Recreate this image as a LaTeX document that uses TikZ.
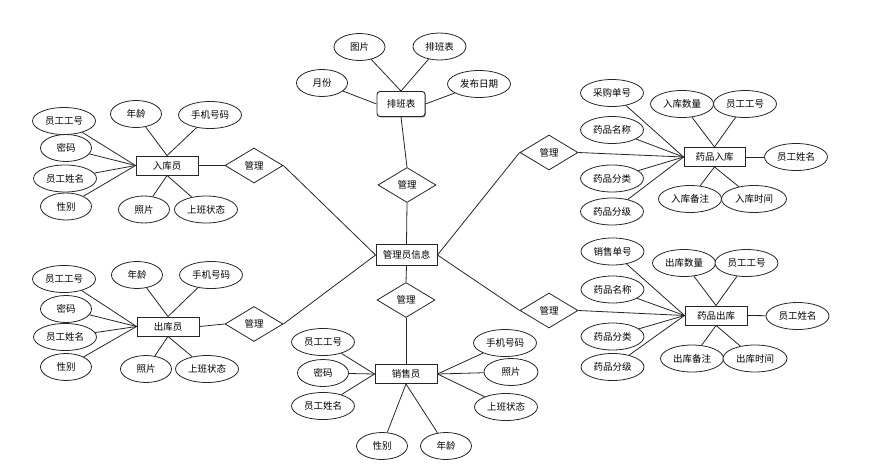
\documentclass[tikz,border=0pt]{standalone}
\usepackage{fontspec}
\newfontfamily\cjk{Noto Sans CJK SC}
\usetikzlibrary{shapes.geometric,shadows}
\begin{document}
\begin{tikzpicture}[x=1pt,y=-1pt,
  every node/.style={font=\cjk\fontsize{9.5}{10}\selectfont, inner sep=0pt, text=black},
  attrs/.style={ellipse, draw=black!85, line width=0.8pt, fill=white, minimum width=51, minimum height=27},
  attrl/.style={attrs, minimum width=63},
  ent/.style={rectangle, draw=black!85, line width=0.9pt, fill=white, minimum width=62, minimum height=19,
     drop shadow={shadow xshift=0.8pt, shadow yshift=-0.8pt, fill=black!55, opacity=1}},
  rel/.style={diamond, draw=black!85, line width=0.8pt, fill=white, minimum width=58, minimum height=35},
  conn/.style={draw=black!85, line width=0.8pt}]
\useasboundingbox (0,0) rectangle (886,471);

% central column
\node[ent, rounded corners=3pt, minimum width=48, minimum height=25] (pb) at (401,104) {排班表};
\node[attrs] (pb1) at (322,83) {月份};
\node[attrs] (pb2) at (359.5,47) {图片};
\node[attrs, minimum width=53] (pb3) at (439.5,46.5) {排班表};
\node[attrl] (pb4) at (479,84) {发布日期};
\node[rel] (r0) at (407,185) {管理};
\node[ent, minimum width=61, minimum height=21] (adm) at (406.5,255) {管理员信息};
\node[rel] (r5) at (406,300) {管理};
\node[ent] (xs) at (406,374) {销售员};

% left top
\node[ent] (rk) at (167,165.5) {入库员};
\node[attrl] (rk1) at (64,121) {员工工号};
\node[attrs] (rk2) at (66,148) {密码};
\node[attrl] (rk3) at (65,178.5) {员工姓名};
\node[attrs] (rk4) at (66,206.5) {性别};
\node[attrs] (rk5) at (136,114) {年龄};
\node[attrl] (rk6) at (210,115) {手机号码};
\node[attrs] (rk7) at (144,209.5) {照片};
\node[attrl] (rk8) at (206,209.5) {上班状态};
\node[rel] (r1) at (254,165.5) {管理};

% left bottom
\node[ent] (ck) at (168,326.5) {出库员};
\node[attrl] (ck1) at (64,279) {员工工号};
\node[attrs] (ck2) at (66,309) {密码};
\node[attrl] (ck3) at (65,337) {员工姓名};
\node[attrs] (ck4) at (66,367) {性别};
\node[attrs] (ck5) at (137,275) {年龄};
\node[attrl] (ck6) at (211,275) {手机号码};
\node[attrs] (ck7) at (146,369) {照片};
\node[attrl] (ck8) at (207,369) {上班状态};
\node[rel] (r2) at (254,324) {管理};

% bottom
\node[attrl] (xs1) at (323,342) {员工工号};
\node[attrs] (xs2) at (323,373) {密码};
\node[attrl] (xs3) at (323,406) {员工姓名};
\node[attrs] (xs4) at (382,446) {性别};
\node[attrs] (xs5) at (446,446) {年龄};
\node[attrl] (xs6) at (505,343) {手机号码};
\node[attrs, minimum width=54] (xs7) at (511,372) {照片};
\node[attrl] (xs8) at (506,407) {上班状态};

% right top
\node[ent, minimum width=61] (yr) at (714.5,157) {药品入库};
\node[attrl] (yr1) at (612,93) {采购单号};
\node[attrl] (yr2) at (612,130) {药品名称};
\node[attrl] (yr3) at (612,178.5) {药品分类};
\node[attrl] (yr4) at (612,211.5) {药品分级};
\node[attrl] (yr5) at (682,104) {入库数量};
\node[attrl] (yr6) at (745,104) {员工工号};
\node[attrl] (yr7) at (796,157) {员工姓名};
\node[attrl] (yr8) at (690,199) {入库备注};
\node[attrl, minimum width=65] (yr9) at (754,199) {入库时间};
\node[rel] (r3) at (549,152.5) {管理};

% right bottom
\node[ent] (yc) at (716,315.5) {药品出库};
\node[attrl] (yc1) at (612.5,251.5) {销售单号};
\node[attrl] (yc2) at (612.5,289.5) {药品名称};
\node[attrl] (yc3) at (612.5,336.5) {药品分类};
\node[attrl] (yc4) at (612.5,367) {药品分级};
\node[attrl] (yc5) at (684,263) {出库数量};
\node[attrl] (yc6) at (746.5,263) {员工工号};
\node[attrl] (yc7) at (797.5,316) {员工姓名};
\node[attrl] (yc8) at (692,358.5) {出库备注};
\node[attrl, minimum width=64] (yc9) at (755,358.5) {出库时间};
\node[rel] (r4) at (549,310.5) {管理};

% connectors
\draw[conn] (pb1) -- (pb.west);
\draw[conn] (pb2) -- (pb.north);
\draw[conn] (pb3) -- (pb.north);
\draw[conn] (pb4) -- (pb.east);
\draw[conn] (pb.south) -- (r0.north);
\draw[conn] (r0.south) -- (adm.north);
\draw[conn] (adm.south) -- (r5.north);
\draw[conn] (r5.south) -- (xs.north);

\foreach \a in {rk1,rk2,rk3,rk4} \draw[conn] (\a) -- (rk.west);
\foreach \a in {rk5,rk6} \draw[conn] (\a) -- (rk.north);
\foreach \a in {rk7,rk8} \draw[conn] (\a) -- (rk.south);
\draw[conn] (rk.east) -- (r1.west);
\draw[conn] (r1.east) -- (adm.west);

\foreach \a in {ck1,ck2,ck3,ck4} \draw[conn] (\a) -- (ck.west);
\foreach \a in {ck5,ck6} \draw[conn] (\a) -- (ck.north);
\foreach \a in {ck7,ck8} \draw[conn] (\a) -- (ck.south);
\draw[conn] (ck.east) -- (r2.west);
\draw[conn] (r2.east) -- (adm.west);

\foreach \a in {xs1,xs2,xs3} \draw[conn] (\a) -- (xs.west);
\foreach \a in {xs6,xs7,xs8} \draw[conn] (\a) -- (xs.east);
\foreach \a in {xs4,xs5} \draw[conn] (\a) -- (xs.south);

\foreach \a in {yr1,yr2,yr3,yr4} \draw[conn] (\a) -- (yr.west);
\foreach \a in {yr5,yr6} \draw[conn] (\a) -- (yr.north);
\foreach \a in {yr8,yr9} \draw[conn] (\a) -- (yr.south);
\draw[conn] (yr.east) -- (yr7);
\draw[conn] (r3.east) -- (yr.west);
\draw[conn] (r3.west) -- (adm.east);

\foreach \a in {yc1,yc2,yc3,yc4} \draw[conn] (\a) -- (yc.west);
\foreach \a in {yc5,yc6} \draw[conn] (\a) -- (yc.north);
\foreach \a in {yc8,yc9} \draw[conn] (\a) -- (yc.south);
\draw[conn] (yc.east) -- (yc7);
\draw[conn] (r4.east) -- (yc.west);
\draw[conn] (r4.west) -- (adm.east);
\end{tikzpicture}
\end{document}
